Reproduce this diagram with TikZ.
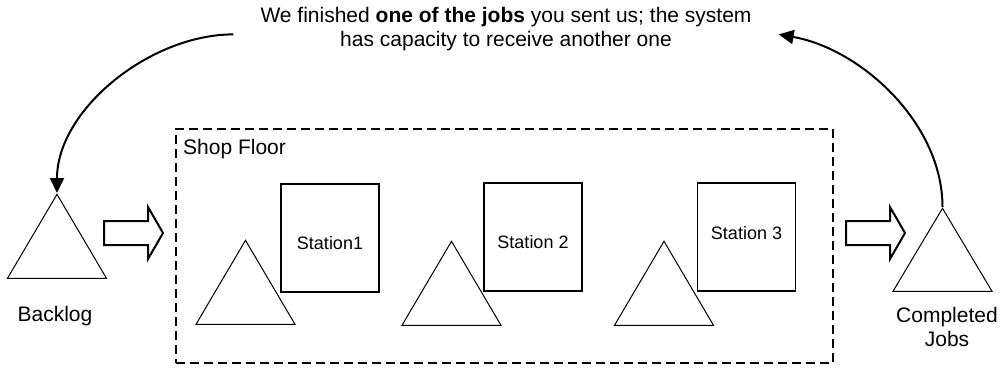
\documentclass[tikz,border=0pt]{standalone}
\usepackage{fontspec}
\setmainfont{Liberation Sans}
\usetikzlibrary{arrows.meta,shapes.geometric}
\tikzset{
  tri/.style={isosceles triangle, isosceles triangle stretches, shape border rotate=90,
    minimum width=99pt, minimum height=84pt, inner sep=0pt, draw, line width=1pt, anchor=apex},
  stbox/.style={draw, line width=1.3pt, minimum width=98pt, minimum height=108pt, inner sep=0pt},
  sttext/.style={font=\fontsize{18}{21}\selectfont, anchor=base, inner sep=0pt},
  lbl/.style={font=\fontsize{21}{24}\selectfont, inner sep=0pt, align=center},
  flow/.style={line width=2pt, -{Triangle[length=15pt,width=14pt]}},
  fence/.style={draw, line width=1.6pt, dash pattern=on 9pt off 5pt},
  blockarrow/.pic={\draw[line width=2pt, miter limit=10] (0,-12) -- (44,-12) -- (44,-26) -- (59,0) -- (44,26) -- (44,12) -- (0,12) -- cycle;}
}
\begin{document}
\begin{tikzpicture}[x=1pt,y=-1pt]
\useasboundingbox (0,0) rectangle (1004,369);
% shop floor frame
\node[fence, minimum width=657pt, minimum height=234pt, anchor=north west, inner sep=0pt] (floor) at (175,128) {};
\node[lbl, anchor=base west] (floorlbl) at (183,154) {Shop Floor};
% triangles (buffers)
\node[tri] (blt) at (57,193) {};
\node[tri] (t1) at (245.5,239) {};
\node[tri] (t2) at (451.5,240) {};
\node[tri] (t3) at (664,240) {};
\node[tri, minimum height=83pt] (cjt) at (942.5,207) {};
% stations
\node[stbox] (s1) at (330,238) {};
\node[sttext] (s1t) at (330,249) {Station1};
\node[stbox] (s2) at (533,237) {};
\node[sttext] (s2t) at (533,248) {Station 2};
\node[stbox] (s3) at (746.5,237) {};
\node[sttext] (s3t) at (746.5,239) {Station 3};
% labels
\node[lbl, anchor=base] (bll) at (55,321) {Backlog};
\node[lbl, anchor=north] (cjl) at (947,306.7) {Completed\\Jobs};
% message
\node[lbl, inner xsep=27pt, inner ysep=0pt, anchor=north] (msg) at (506,7.4)
  {We finished \textbf{one of the jobs} you sent us; the system\\has capacity to receive another one};
% block arrows
\pic at (104,233) {blockarrow};
\pic at (846,233) {blockarrow};
% feedback arrows
\draw[flow] ([yshift=-5pt]msg.west) to[out=180,in=90,looseness=0.9] (blt.apex);
\draw[flow] (cjt.apex) to[out=90,in=-10,looseness=0.9] ([yshift=-5pt]msg.east);
\end{tikzpicture}
\end{document}
